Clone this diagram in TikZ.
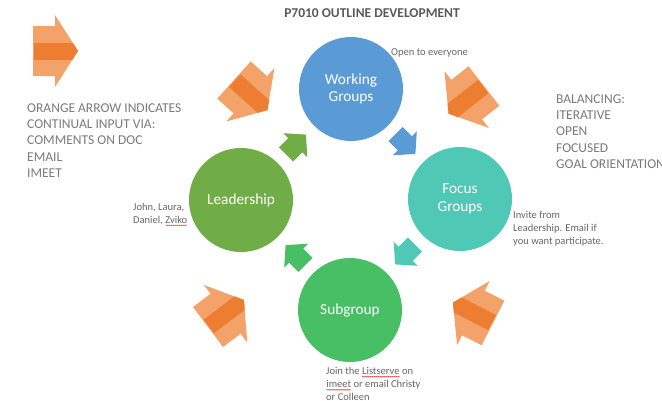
\documentclass[tikz,border=0pt]{standalone}
\usepackage{fontspec}
\setmainfont{Carlito}
\usetikzlibrary{calc,decorations.pathmorphing}
\definecolor{orlight}{HTML}{F3A26A}
\definecolor{ordark}{HTML}{ED7D31}
\definecolor{wgblue}{HTML}{5B9BD5}
\definecolor{fgteal}{HTML}{4FC9B5}
\definecolor{leadgreen}{HTML}{70AD47}
\definecolor{subgreen}{HTML}{48BE65}
\definecolor{titlegray}{HTML}{595959}
\definecolor{biggray}{HTML}{7A7A7A}
\definecolor{smallgray}{HTML}{666666}
\newcommand{\orangearrow}[2]{%
  \begin{scope}[shift={#1}, rotate=#2]
    \fill[orlight] (0,-25) -- (22,-25) -- (22,-36) -- (45,0) -- (22,36) -- (22,25) -- (0,25) -- cycle;
    \begin{scope}
      \clip (0,-25) -- (22,-25) -- (22,-36) -- (45,0) -- (22,36) -- (22,25) -- (0,25) -- cycle;
      \fill[ordark] (1,-8.5) rectangle (45,8.5);
    \end{scope}
  \end{scope}}
\newcommand{\blockarrow}[4]{%
  \fill[#4, shift={($(#1)!0.5!(#2)$)}, rotate=#3]
    (-14,-10) -- (-1,-10) -- (-1,-17) -- (14,0) -- (-1,17) -- (-1,10) -- (-14,10) -- cycle;}
\newcommand{\spellerr}[1]{\tikz[baseline=(w.base)]{\node[inner sep=0pt,outer sep=0pt] (w) {#1};
  \draw[red!85!black, line width=0.35pt, decorate, decoration={snake, amplitude=0.5pt, segment length=2pt}]
    ([yshift=-1.8pt]w.base west) -- ([yshift=-1.8pt]w.base east);}}
\begin{document}
\begin{tikzpicture}[x=1pt, y=-1pt,
  circ/.style={circle, minimum size=104pt, inner sep=0pt, text=white, align=center,
    font=\fontsize{15.3}{17.5}\selectfont},
  bigtext/.style={anchor=north west, inner sep=0pt, align=left, text=biggray,
    font=\fontsize{13.5}{16.2}\selectfont},
  smalltext/.style={anchor=north west, inner sep=0pt, align=left, text=smallgray,
    font=\fontsize{10.5}{13}\selectfont}]
\useasboundingbox (0,0) rectangle (662,400);

% title
\node[text=titlegray, font=\bfseries\fontsize{13.5}{16}\selectfont] (title) at (372,13) {P7010 OUTLINE DEVELOPMENT};

% circles
\node[circ, fill=wgblue] (wg) at (351,89) {Working\\Groups};
\node[circ, fill=fgteal] (fg) at (460,199) {Focus\\Groups};
\node[circ, fill=subgreen] (sub) at (350,310) {Subgroup};
\node[circ, fill=leadgreen] (lead) at (241,200) {Leadership};

% small block arrows between circles
\blockarrow{lead}{wg}{45}{leadgreen}
\blockarrow{wg}{fg}{-45}{wgblue}
\blockarrow{fg}{sub}{-135}{fgteal}
\blockarrow{sub}{lead}{135}{subgreen}

% orange arrows
\orangearrow{(33,51)}{0}
\orangearrow{(234,80)}{-42}
\orangearrow{(484,86)}{-142}
\orangearrow{(208,327)}{37}
\orangearrow{(493,323)}{153}

% texts
\node[bigtext] (legend) at (27,103.5) {ORANGE ARROW INDICATES\\CONTINUAL INPUT VIA:\\COMMENTS ON DOC\\EMAIL\\IMEET};
\node[bigtext] (balance) at (556,94.5) {BALANCING:\\ITERATIVE\\OPEN\\FOCUSED\\GOAL ORIENTATION};
\node[text=smallgray, font=\fontsize{10.5}{13}\selectfont, inner sep=0pt] (open) at (429.5,53) {Open to everyone};
\node[smalltext] (invite) at (513,211.5) {Invite from\\Leadership. Email if\\you want participate.};
\node[smalltext] (john) at (133,203) {John, Laura,\\Daniel, \spellerr{Zviko}};
\node[smalltext] (join) at (326,367.5) {Join the \spellerr{Listserve} on\\\spellerr{imeet} or email Christy\\or Colleen};
\end{tikzpicture}
\end{document}
